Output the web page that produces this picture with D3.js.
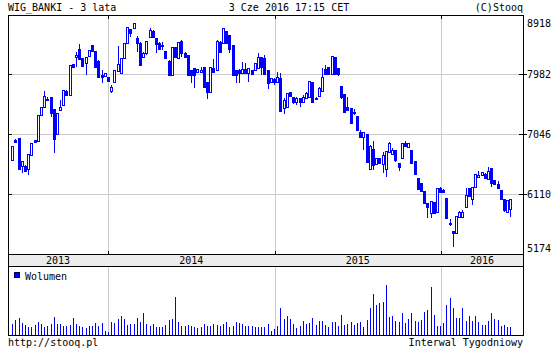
<!DOCTYPE html>
<html>
<head>
<meta charset="utf-8">
<script src="https://cdn.jsdelivr.net/npm/d3@7"></script>
<style>
    body { margin: 0; background: #fff; }
    svg { display: block; }
    text { font-family: "DejaVu Sans Mono", monospace; font-size: 10px; fill: #000; }
</style>
</head>
<body>
<svg id="chart"></svg>
<script>
// weekly bars, WIG_BANKI, Jun 2013 - Jun 2016
const firstWeek = new Date(2013, 5, 5);

const openVals = [6640,6952,6983,6546,6546,6504,6713,6952,6932,7337,
    7462,7596,7618,7431,7046,7420,7493,7721,7649,8138,
    8242,8367,8227,8149,8262,8434,8340,8189,7966,7950,
    7930,7721,7862,8033,8002,8227,8461,8679,8699,8539,
    8470,8242,8305,8563,8652,8539,8470,8434,8340,8189,
    7961,8398,8227,8501,8314,8278,8044,8071,8013,8013,
    8091,7862,7706,8080,8044,8486,8461,8652,8590,8434,
    8044,8044,7993,8055,7993,8044,8044,8071,8242,8236,
    8044,7862,7904,7862,7927,7459,7471,7696,7628,7550,
    7603,7550,7603,7628,7862,7592,7643,7716,8060,8091,
    7977,8252,8080,7794,7670,7471,7447,7394,7326,7082,
    7004,7041,6500,6812,6573,6667,6578,6495,6770,6734,
    6796,6598,6667,6910,6838,6796,6629,6355,6277,6161,
    5974,5809,5990,5834,6199,6172,6043,5657,5537,5506,
    5756,5756,5902,6199,6027,6224,6380,6406,6422,6339,
    6511,6328,6266,6172,6032,5834,5876];

const highVals = [6858,6972,6983,6624,6562,6734,6905,6952,7342,7467,
    7716,7628,7623,7436,7369,7576,7732,7732,8127,8138,
    8325,8450,8231,8242,8356,8434,8340,8200,8044,8002,
    7935,7805,8044,8418,8227,8461,8720,8684,8773,8574,
    8481,8325,8496,8695,8668,8543,8481,8486,8340,8200,
    8403,8403,8481,8512,8325,8278,8044,8075,8060,8096,
    8091,7862,8096,8211,8512,8496,8699,8652,8590,8434,
    8044,8060,8174,8158,8075,8052,8153,8305,8247,8278,
    8044,7919,7915,8018,7993,7603,7685,7701,7631,7628,
    7607,7654,7701,7872,7865,7623,7779,8080,8122,8099,
    8262,8255,8083,7794,7670,7628,7451,7431,7326,7108,
    7077,7046,6874,6936,6679,6671,6770,6788,6926,6823,
    6804,6601,6913,6941,6905,6796,6632,6359,6281,6164,
    5977,6008,5993,6203,6224,6188,6047,5715,5540,5766,
    5837,5860,6199,6203,6227,6422,6468,6461,6430,6526,
    6515,6328,6317,6180,6032,6016,6032];

const lowVals = [6629,6921,6500,6437,6453,6411,6710,6913,6929,7334,
    7459,7560,7306,6745,7046,7420,7490,7646,7646,8075,
    8096,8211,8106,7966,8262,8340,8091,7935,7837,7950,
    7872,7681,7862,8028,7982,8223,8450,8559,8699,8325,
    8122,8239,8278,8563,8563,8314,8372,8356,8236,7966,
    7958,8247,8223,8252,8242,7961,7846,7768,8013,7997,
    7784,7592,7701,8018,8044,8325,8457,8461,8314,7966,
    7846,7846,7989,7989,7862,7974,8044,8067,7966,7977,
    7743,7857,7810,7857,7412,7365,7467,7638,7514,7498,
    7471,7545,7592,7623,7537,7576,7638,7712,7974,7974,
    7974,7974,7955,7587,7389,7420,7217,7342,7108,6999,
    6796,6601,6495,6484,6570,6585,6433,6380,6765,6726,
    6613,6473,6663,6851,6835,6593,6422,6180,6156,5969,
    5731,5731,5805,5829,6141,6141,5727,5610,5288,5497,
    5751,5751,5899,6071,5938,6219,6375,6398,6351,6336,
    6214,6258,6195,6024,5834,5829,5756];

const closeVals = [6858,6926,6504,6620,6473,6729,6900,6916,7337,7462,
    7634,7571,7369,6972,7369,7462,7732,7649,8127,8086,
    8273,8211,8106,8242,8356,8345,8096,7940,7930,8002,
    7877,7774,8044,8138,8227,8461,8720,8617,8773,8461,
    8122,8314,8496,8668,8563,8445,8376,8418,8236,7966,
    8398,8252,8476,8314,8242,7961,7961,7961,8055,8044,
    7784,7696,8096,8018,8501,8330,8695,8461,8367,7966,
    7966,7993,8055,7993,8071,7982,8149,8242,8096,7977,
    7837,7915,7862,7940,7412,7576,7681,7643,7550,7612,
    7540,7628,7681,7872,7540,7612,7759,7940,7977,7977,
    8262,7977,7977,7628,7394,7420,7222,7369,7108,7004,
    7072,6604,6863,6562,6676,6589,6718,6785,6910,6796,
    6640,6526,6910,6858,6900,6598,6422,6183,6161,5974,
    5912,6005,5809,6199,6145,6145,5731,5642,5497,5766,
    5834,5834,6094,6078,6224,6422,6406,6453,6355,6468,
    6277,6266,6199,6027,5860,6016,6032];

const volumeVals = [110,150,170,117,97,77,83,100,130,110,
    83,90,110,180,110,110,90,90,97,170,
    110,90,77,70,90,90,123,90,123,43,
    30,130,120,163,187,163,97,110,110,170,
    130,220,110,90,110,77,83,83,97,150,
    160,380,130,90,90,97,90,77,70,83,
    110,90,90,110,97,90,110,130,77,90,
    130,123,110,90,90,90,77,83,77,77,
    110,43,57,90,270,160,190,160,110,70,
    90,143,110,120,170,100,143,143,97,80,
    130,130,90,200,100,113,130,100,123,130,
    80,150,270,410,300,323,330,500,180,190,
    140,130,220,120,160,220,140,130,150,233,
    247,480,197,90,90,120,300,370,270,170,
    170,270,140,190,140,187,130,100,100,140,
    220,160,150,90,100,80,80];

const priceTicks = [5174, 6110, 7046, 7982, 8918];
const years = [2013, 2014, 2015, 2016];

const width = 560, height = 350;
const plotLeft = 8, plotRight = 523, plotTop = 15;
const priceBottom = 254, bandBottom = 266, volBottom = 335;
const blue = "#0000ff", grid = "#cccccc";

let svg = d3.select("#chart").attr("width", width).attr("height", height);

let dates = openVals.map((d, i) => d3.timeDay.offset(firstWeek, 7 * i));

let x = d3.scaleTime()
    .domain([new Date(2014, 0, 1), new Date(2016, 0, 1)])
    .range([108, 441]);
let y = d3.scaleLinear().domain([5174, 8918]).range([priceBottom, 14]);
let yVol = d3.scaleLinear().domain([0, 690]).range([volBottom, bandBottom]);

svg.append("rect").attr("width", width).attr("height", height).attr("fill", "#fff");

let g = svg.append("g").attr("shape-rendering", "crispEdges");

// band with years
g.append("rect")
    .attr("x", plotLeft).attr("y", priceBottom)
    .attr("width", plotRight - plotLeft).attr("height", bandBottom - priceBottom)
    .attr("fill", "#ececec");

// horizontal grid
priceTicks.forEach(t => {
    let py = Math.round(y(t)) + 0.5;
    if (py > plotTop + 1 && py < priceBottom) {
        g.append("line").attr("x1", plotLeft).attr("x2", plotRight).attr("y1", py).attr("y2", py)
            .attr("stroke", grid);
    }
});

// vertical grid at year boundaries
years.slice(1).forEach(yr => {
    let px = Math.round(x(new Date(yr, 0, 1))) + 0.5;
    g.append("line").attr("x1", px).attr("x2", px).attr("y1", plotTop).attr("y2", priceBottom)
        .attr("stroke", grid);
    g.append("line").attr("x1", px).attr("x2", px).attr("y1", bandBottom).attr("y2", volBottom)
        .attr("stroke", grid);
    g.append("line").attr("x1", px).attr("x2", px).attr("y1", plotTop).attr("y2", plotTop + 4)
        .attr("stroke", "#000");
    g.append("line").attr("x1", px).attr("x2", px).attr("y1", priceBottom - 3).attr("y2", priceBottom)
        .attr("stroke", "#000");
});

// candles
let candles = g.append("g");
openVals.forEach((o, i) => {
    let c = Math.round(x(dates[i]));
    let hi = Math.round(y(highVals[i])), lo = Math.round(y(lowVals[i]));
    let yo = Math.round(y(o)), yc = Math.round(y(closeVals[i]));
    let bodyTop = Math.min(yo, yc), bodyBot = Math.max(yo, yc);
    candles.append("line")
        .attr("x1", c + 0.5).attr("x2", c + 0.5)
        .attr("y1", hi).attr("y2", Math.max(lo, hi + 1))
        .attr("stroke", blue);
    if (closeVals[i] >= o) {
        candles.append("rect")
            .attr("x", c - 0.5).attr("y", bodyTop + 0.5)
            .attr("width", 2).attr("height", Math.max(1, bodyBot - bodyTop))
            .attr("fill", "#fff").attr("stroke", blue);
    } else {
        candles.append("rect")
            .attr("x", c - 1).attr("y", bodyTop)
            .attr("width", 3).attr("height", Math.max(2, bodyBot - bodyTop + 1))
            .attr("fill", blue);
    }
});

// volume
g.append("g").selectAll("line")
    .data(volumeVals)
    .join("line")
    .attr("x1", (d, i) => Math.round(x(dates[i])) + 0.5)
    .attr("x2", (d, i) => Math.round(x(dates[i])) + 0.5)
    .attr("y1", volBottom)
    .attr("y2", d => Math.round(yVol(d)))
    .attr("stroke", blue);

// frame
g.append("rect")
    .attr("x", plotLeft + 0.5).attr("y", plotTop + 0.5)
    .attr("width", plotRight - plotLeft).attr("height", volBottom - plotTop)
    .attr("fill", "none").attr("stroke", "#000");
[priceBottom, bandBottom].forEach(yy => {
    g.append("line").attr("x1", plotLeft).attr("x2", plotRight + 1)
        .attr("y1", yy + 0.5).attr("y2", yy + 0.5).attr("stroke", "#000");
});

// axis ticks and labels
priceTicks.forEach(t => {
    let gy = Math.round(y(t));
    if (gy > plotTop + 1 && gy < priceBottom) {
        g.append("line").attr("x1", plotLeft).attr("x2", plotLeft + 4)
            .attr("y1", gy + 0.5).attr("y2", gy + 0.5).attr("stroke", "#000");
        g.append("line").attr("x1", plotRight - 4).attr("x2", plotRight + 4)
            .attr("y1", gy + 0.5).attr("y2", gy + 0.5).attr("stroke", "#000");
    }
    svg.append("text")
        .attr("x", 527)
        .attr("y", Math.min(Math.max(gy + 4, 26.5), 251.5))
        .text(t);
});

years.forEach(yr => {
    let a = Math.max(plotLeft, x(new Date(yr, 0, 1)));
    let b = Math.min(plotRight, x(new Date(yr + 1, 0, 1)));
    svg.append("text")
        .attr("x", (a + b) / 2).attr("y", 264)
        .attr("text-anchor", "middle")
        .text(yr);
});

// legend
g.append("rect").attr("x", 14.5).attr("y", 272.5).attr("width", 5).attr("height", 5)
    .attr("fill", blue).attr("stroke", "#000066");
svg.append("text").attr("x", 25).attr("y", 279.5).text("Wolumen");

// header & footer
svg.append("text").attr("x", 8).attr("y", 11).text("WIG_BANKI - 3 lata");
svg.append("text").attr("x", 289).attr("y", 11).attr("text-anchor", "middle").text("3 Cze 2016 17:15 CET");
svg.append("text").attr("x", 523).attr("y", 11).attr("text-anchor", "end").text("(C)Stooq");
svg.append("text").attr("x", 8).attr("y", 346).text("http://stooq.pl");
svg.append("text").attr("x", 523).attr("y", 346).attr("text-anchor", "end").text("Interwal Tygodniowy");
</script>
</body>
</html>
